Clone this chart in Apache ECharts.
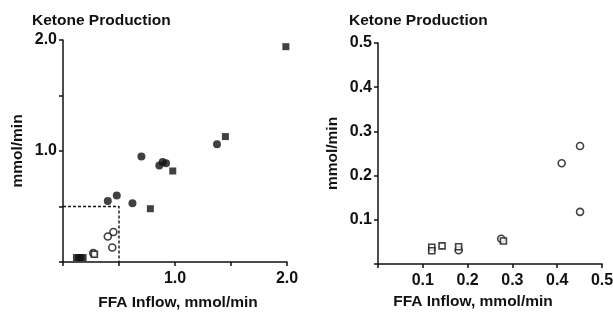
<!DOCTYPE html>
<html>
<head>
<meta charset="utf-8">
<script src="https://cdn.jsdelivr.net/npm/echarts@6/dist/echarts.min.js"></script>
<style>
  html, body { margin: 0; padding: 0; background: #fff; }
  #chart { width: 613px; height: 314px; }
</style>
</head>
<body>
<div id="chart"></div>
<script>
// left panel, whole range
var leftFilledCircles = [[0.70, 0.95], [0.86, 0.87], [0.89, 0.90], [0.92, 0.89], [1.375, 1.06],
    [0.48, 0.60], [0.40, 0.55], [0.62, 0.53]];
var leftFilledSquares = [[1.99, 1.94], [1.45, 1.13], [0.98, 0.82], [0.78, 0.48]];
var leftSmallSquares = [[0.12, 0.04], [0.14, 0.04], [0.16, 0.04], [0.18, 0.04]];
var leftOpenCircles = [[0.45, 0.27], [0.40, 0.23], [0.44, 0.13], [0.27, 0.08]];
var leftOpenSquares = [[0.28, 0.07]];
var dashedBox = [[0, 0.5], [0.5, 0.5], [0.5, 0]];

// right panel, zoom of the 0-0.5 box
var rightOpenCircles = [[0.451, 0.267], [0.41, 0.228], [0.451, 0.118], [0.275, 0.057], [0.18, 0.031]];
var rightOpenSquares = [[0.28, 0.052], [0.12, 0.038], [0.12, 0.030], [0.143, 0.041], [0.18, 0.039]];

var leftTicks = ['1.0', '2.0'];
var rightTicks = ['0.1', '0.2', '0.3', '0.4', '0.5'];

var fontFam = '"Liberation Sans", Arial, sans-serif';
var ink = '#111';

function labelFmt(list) {
    return function (v) {
        var s = v.toFixed(1);
        return list.indexOf(s) >= 0 ? s : '';
    };
}

function makeAxis(idx, max, interval, ticks, isX, name, gap, pad) {
    return {
        gridIndex: idx,
        type: 'value',
        min: 0,
        max: max,
        interval: interval,
        name: name,
        nameLocation: 'middle',
        nameGap: gap,
        nameRotate: isX ? 0 : 90,
        nameTextStyle: {color: ink, fontSize: 15.5, fontWeight: 'bold', fontFamily: fontFam, padding: pad || 0},
        splitLine: {show: false},
        axisLine: {lineStyle: {color: ink, width: 1.5}},
        axisTick: {show: true, length: 4, lineStyle: {color: ink, width: 1.5}},
        axisLabel: {
            color: ink, fontSize: 16, fontWeight: 'bold', fontFamily: fontFam,
            margin: isX ? 9 : 6,
            formatter: labelFmt(ticks)
        }
    };
}

var chart = echarts.init(document.getElementById('chart'), null, {renderer: 'canvas'});

var option = {
    animation: false,
    backgroundColor: '#fff',
    title: [
        {text: 'Ketone Production', left: 32, top: 13, padding: 0,
            textStyle: {color: ink, fontSize: 15.5, fontWeight: 'bold', fontFamily: fontFam}},
        {text: 'Ketone Production', left: 349, top: 13, padding: 0,
            textStyle: {color: ink, fontSize: 15.5, fontWeight: 'bold', fontFamily: fontFam}}
    ],
    grid: [
        {left: 63, top: 40, width: 224, height: 222, outerBoundsMode: 'none'},
        {left: 378, top: 43, width: 224, height: 221, outerBoundsMode: 'none'}
    ],
    xAxis: [
        makeAxis(0, 2, 0.5, leftTicks, true, 'FFA Inflow, mmol/min', 33, [0, 0, 0, 6]),
        makeAxis(1, 0.5, 0.1, rightTicks, true, 'FFA Inflow, mmol/min', 27, [0, 34, 0, 0])
    ],
    yAxis: [
        makeAxis(0, 2, 0.5, leftTicks, false, 'mmol/min', 37),
        makeAxis(1, 0.5, 0.1, rightTicks, false, 'mmol/min', 37)
    ],
    series: [
        {type: 'line', xAxisIndex: 0, yAxisIndex: 0, data: dashedBox, symbol: 'none',
            lineStyle: {color: ink, width: 1.4, type: [3, 2]}, z: 1},
        {type: 'scatter', xAxisIndex: 0, yAxisIndex: 0, data: leftFilledCircles, symbol: 'circle',
            symbolSize: 8, itemStyle: {color: ink}},
        {type: 'scatter', xAxisIndex: 0, yAxisIndex: 0, data: leftFilledSquares, symbol: 'rect',
            symbolSize: 7, itemStyle: {color: ink}},
        {type: 'scatter', xAxisIndex: 0, yAxisIndex: 0, data: leftSmallSquares, symbol: 'rect',
            symbolSize: 7, itemStyle: {color: ink}},
        {type: 'scatter', xAxisIndex: 0, yAxisIndex: 0, data: leftOpenCircles, symbol: 'circle',
            symbolSize: 7, itemStyle: {color: '#fff', borderColor: ink, borderWidth: 1.6}},
        {type: 'scatter', xAxisIndex: 0, yAxisIndex: 0, data: leftOpenSquares, symbol: 'rect',
            symbolSize: 6, itemStyle: {color: '#fff', borderColor: ink, borderWidth: 1.6}},
        {type: 'scatter', xAxisIndex: 1, yAxisIndex: 1, data: rightOpenCircles, symbol: 'circle',
            symbolSize: 7, itemStyle: {color: '#fff', borderColor: ink, borderWidth: 1.6}},
        {type: 'scatter', xAxisIndex: 1, yAxisIndex: 1, data: rightOpenSquares, symbol: 'rect',
            symbolSize: 6, itemStyle: {color: '#fff', borderColor: ink, borderWidth: 1.6}}
    ]
};

chart.setOption(option);
</script>
</body>
</html>
